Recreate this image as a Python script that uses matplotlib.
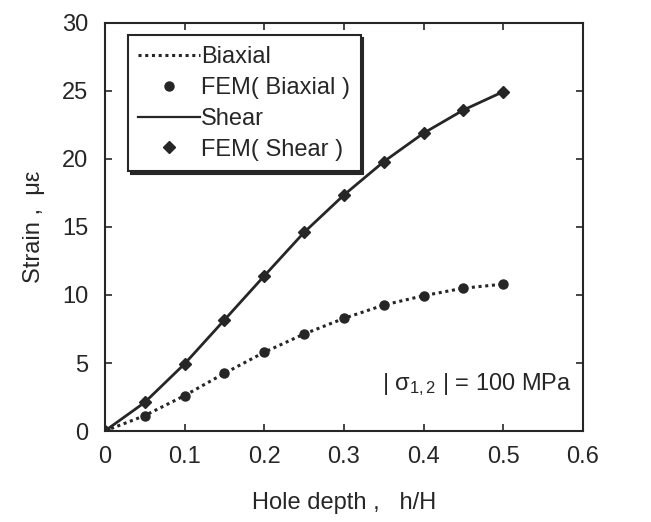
import matplotlib
matplotlib.use("Agg")
import matplotlib.pyplot as plt
from matplotlib.lines import Line2D

plt.rcParams['font.family'] = ['Liberation Sans', 'DejaVu Sans']
plt.rcParams['mathtext.fontset'] = 'custom'
plt.rcParams['mathtext.rm'] = 'Liberation Sans'
plt.rcParams['mathtext.it'] = 'Liberation Sans'

depth = [0.0, 0.05, 0.10, 0.15, 0.20, 0.25, 0.30, 0.35, 0.40, 0.45, 0.50]
biaxial = [0.0, 1.13, 2.6, 4.24, 5.79, 7.13, 8.28, 9.26, 9.95, 10.5, 10.8]
shear = [0.0, 2.1, 4.93, 8.16, 11.4, 14.6, 17.35, 19.8, 21.9, 23.6, 24.95]

col = '#262626'
fs = 17
fig = plt.figure(figsize=(6.51, 5.22), dpi=100)
ax = fig.add_axes([0.161, 0.1743, 0.7345, 0.7817])

ax.plot(depth, biaxial, linestyle=(0, (1.0, 1.2)), color=col, lw=2.2)
ax.plot(depth, biaxial, linestyle='none', marker='o', ms=6.5, color=col)
ax.plot(depth, shear, linestyle='-', color=col, lw=2.0)
ax.plot(depth, shear, linestyle='none', marker='D', ms=6, color=col)

ax.set_xlim(0, 0.6)
ax.set_ylim(0, 30)
ax.set_xticks([0, 0.1, 0.2, 0.3, 0.4, 0.5, 0.6])
ax.set_xticklabels(['0', '0.1', '0.2', '0.3', '0.4', '0.5', '0.6'])
ax.set_yticks([0, 5, 10, 15, 20, 25, 30])
ax.tick_params(direction='in', top=True, right=True, length=5, width=1.2,
               labelsize=fs, colors=col)
ax.tick_params(axis='x', pad=11)
ax.tick_params(axis='y', pad=12)
for s in ax.spines.values():
    s.set_linewidth(1.5)
    s.set_color(col)

ax.set_xlabel('Hole depth ,   h/H', fontsize=fs, color=col, labelpad=17)
ax.set_ylabel('Strain ,  \u03bc\u03b5', fontsize=fs, color=col, labelpad=12)

ax.text(0.3475, 3.0, r'$|\ \sigma_{1,2}\ |$ = 100 MPa', fontsize=fs, color=col)

handles = [
    Line2D([], [], linestyle=(0, (1.0, 1.2)), color=col, lw=2.2),
    Line2D([], [], linestyle='none', marker='o', ms=6.5, color=col),
    Line2D([], [], linestyle='-', color=col, lw=1.6),
    Line2D([], [], linestyle='none', marker='D', ms=6, color=col),
]
labels = ['Biaxial', 'FEM( Biaxial )', 'Shear', 'FEM( Shear )']
leg = ax.legend(handles, labels, loc='upper left', bbox_to_anchor=(0.048, 0.97),
                fontsize=fs, frameon=True, fancybox=False,
                shadow={'color': col, 'alpha': 1.0},
                handlelength=2.6, handletextpad=0.05, borderpad=0.45,
                labelspacing=0.38, borderaxespad=0)
leg.get_frame().set_edgecolor(col)
leg.get_frame().set_linewidth(1.5)
leg.get_frame().set_alpha(1.0)
for t in leg.get_texts():
    t.set_color(col)

fig.savefig('out.png', dpi=100)
